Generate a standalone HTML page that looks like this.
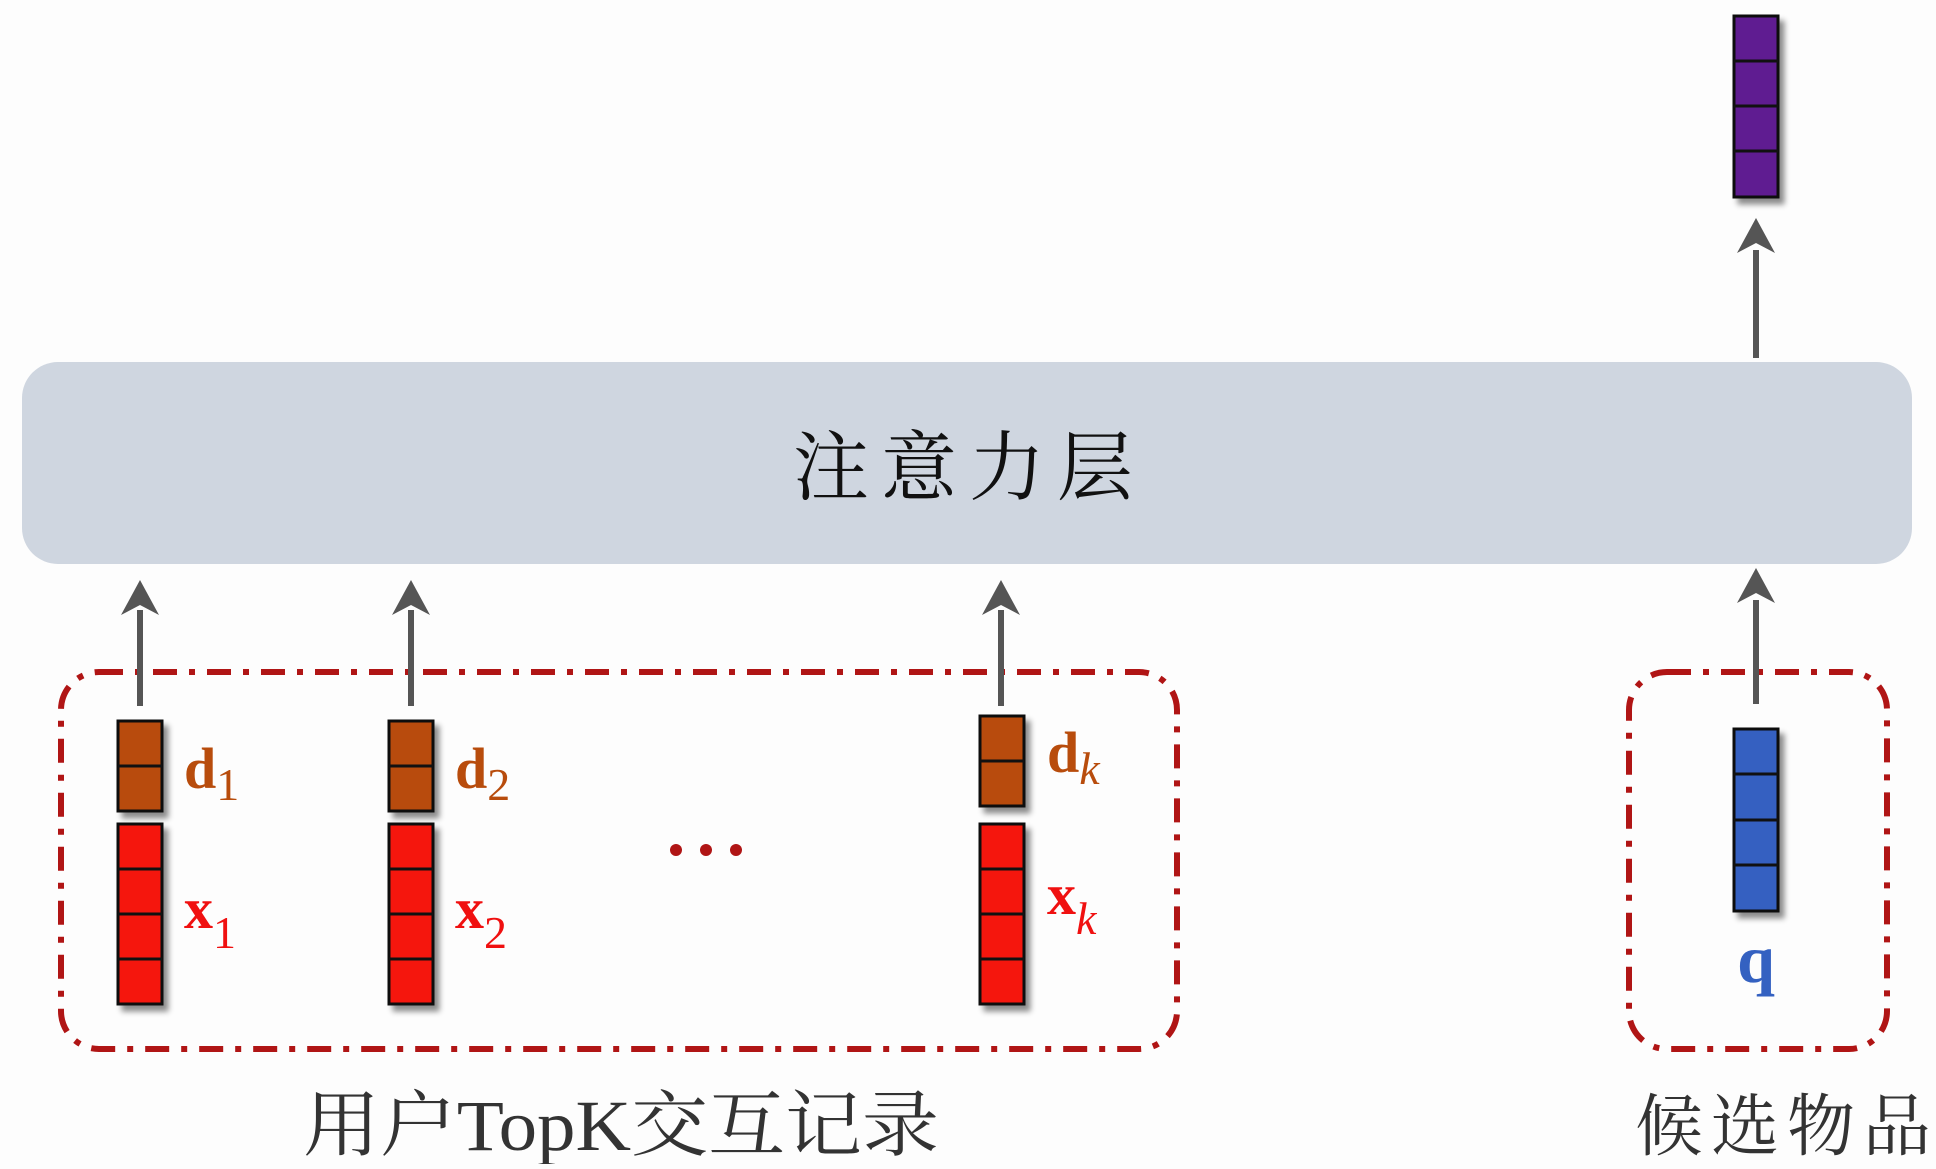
<!DOCTYPE html>
<html><head><meta charset="utf-8"><style>
body{margin:0;background:#fdfdfd;width:1936px;height:1164px;overflow:hidden}
</style></head><body>
<svg width="1936" height="1164" viewBox="0 0 1936 1164" xmlns="http://www.w3.org/2000/svg">
<defs>
<filter id="sh" x="-50%" y="-20%" width="200%" height="140%"><feDropShadow dx="5" dy="6" stdDeviation="3" flood-color="#000" flood-opacity="0.45"/></filter>
</defs>
<rect x="22" y="362" width="1890" height="202" rx="36" fill="#cfd6e0"/>
<text x="969" y="494" font-family="'Noto Serif CJK SC','Noto Sans CJK SC',serif" font-size="76" text-anchor="middle" fill="#111" letter-spacing="12">注意力层</text>

<g stroke="#b01515" stroke-width="6" fill="none" stroke-dasharray="24 12 6 12">
<rect x="61" y="672" width="1116" height="377" rx="38"/>
<rect x="1629" y="672" width="258" height="377" rx="38"/>
</g>

<g fill="#555" stroke="#555">
<line x1="140" y1="706" x2="140" y2="610" stroke-width="6"/><polygon points="140,580 121,615 140,605 159,615" stroke="none"/>
<line x1="411" y1="706" x2="411" y2="610" stroke-width="6"/><polygon points="411,580 392,615 411,605 430,615" stroke="none"/>
<line x1="1001" y1="706" x2="1001" y2="610" stroke-width="6"/><polygon points="1001,580 982,615 1001,605 1020,615" stroke="none"/>
<line x1="1756" y1="704" x2="1756" y2="600" stroke-width="6"/><polygon points="1756,568 1737,603 1756,593 1775,603" stroke="none"/>
<line x1="1756" y1="358" x2="1756" y2="250" stroke-width="6"/><polygon points="1756,218 1737,253 1756,243 1775,253" stroke="none"/>
</g>

<g stroke="#111" stroke-width="3">
<g filter="url(#sh)" fill="#b84c0c">
<rect x="118" y="721" width="44" height="90"/><rect x="389" y="721" width="44" height="90"/><rect x="980" y="716" width="44" height="90"/>
</g>
<line x1="118" y1="766" x2="162" y2="766"/><line x1="389" y1="766" x2="433" y2="766"/><line x1="980" y1="761" x2="1024" y2="761"/>
<g filter="url(#sh)" fill="#f51208">
<rect x="118" y="824" width="44" height="180"/><rect x="389" y="824" width="44" height="180"/><rect x="980" y="824" width="44" height="180"/>
</g>
<g>
<line x1="118" y1="869" x2="162" y2="869"/><line x1="118" y1="914" x2="162" y2="914"/><line x1="118" y1="959" x2="162" y2="959"/>
<line x1="389" y1="869" x2="433" y2="869"/><line x1="389" y1="914" x2="433" y2="914"/><line x1="389" y1="959" x2="433" y2="959"/>
<line x1="980" y1="869" x2="1024" y2="869"/><line x1="980" y1="914" x2="1024" y2="914"/><line x1="980" y1="959" x2="1024" y2="959"/>
</g>
<rect filter="url(#sh)" x="1734" y="729" width="44" height="182" fill="#3461c1"/>
<line x1="1734" y1="774" x2="1778" y2="774"/><line x1="1734" y1="820" x2="1778" y2="820"/><line x1="1734" y1="865" x2="1778" y2="865"/>
<rect filter="url(#sh)" x="1734" y="16" width="44" height="181" fill="#5e1f91"/>
<line x1="1734" y1="61" x2="1778" y2="61"/><line x1="1734" y1="106" x2="1778" y2="106"/><line x1="1734" y1="151" x2="1778" y2="151"/>
</g>

<g font-family="'Liberation Serif',serif" font-weight="bold" font-size="58">
<text x="184" y="788" fill="#b84c0c">d<tspan font-weight="normal" font-size="46" dy="12">1</tspan></text>
<text x="455" y="788" fill="#b84c0c">d<tspan font-weight="normal" font-size="46" dy="12">2</tspan></text>
<text x="1047" y="772" fill="#b84c0c">d<tspan font-weight="normal" font-style="italic" font-size="46" dy="12">k</tspan></text>
<text x="184" y="928" fill="#f01010">x<tspan font-weight="normal" font-size="46" dy="20">1</tspan></text>
<text x="455" y="928" fill="#f01010">x<tspan font-weight="normal" font-size="46" dy="20">2</tspan></text>
<text x="1047" y="914" fill="#f01010">x<tspan font-weight="normal" font-style="italic" font-size="46" dy="20">k</tspan></text>
<text x="1756" y="982" fill="#3461c1" text-anchor="middle" font-size="68">q</text>
</g>
<g fill="#b01515"><circle cx="676" cy="850" r="6"/><circle cx="706" cy="850" r="6"/><circle cx="736" cy="850" r="6"/></g>

<text x="621" y="1150" font-family="'Liberation Serif','Noto Serif CJK SC',serif" font-size="72" text-anchor="middle" fill="#333" textLength="636" lengthAdjust="spacingAndGlyphs">用户TopK交互记录</text>
<text x="1787" y="1150" font-family="'Noto Serif CJK SC',serif" font-size="68" text-anchor="middle" fill="#333" letter-spacing="8">候选物品</text>
</svg>
</body></html>
